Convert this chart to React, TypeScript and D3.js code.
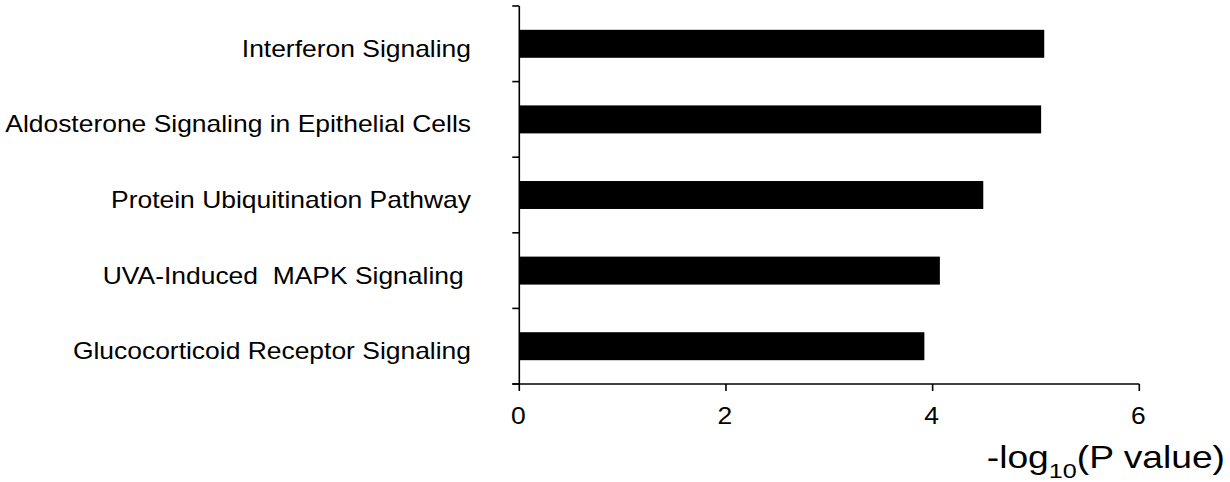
import React from "react";
import * as d3 from "d3";

const categories = [
  "Interferon Signaling",
  "Aldosterone Signaling in Epithelial Cells",
  "Protein Ubiquitination Pathway",
  "UVA-Induced  MAPK Signaling ",
  "Glucocorticoid Receptor Signaling",
];
const values = [5.08, 5.05, 4.49, 4.07, 3.92];
const xTicks = [0, 2, 4, 6];

const W = 1230;
const H = 482;
const left = 519.3;
const right = 1139.3;
const top = 6;
const bottom = 384;
const SX = 1.15;
const FONT = "'Liberation Sans', Arial, Helvetica, sans-serif";

export default function App() {
  const x = d3.scaleLinear().domain([0, 6]).range([left, right]);
  const y = d3
    .scaleBand<string>()
    .domain(categories)
    .range([top, bottom])
    .paddingInner(0.63)
    .paddingOuter(0.315);
  const step = y.step();
  const yTickPos = d3.range(categories.length + 1).map((i) => top + i * step);

  return (
    <svg
      width={W}
      height={H}
      style={{ position: "absolute", left: 0, top: 0, background: "#fff" }}
      fontFamily={FONT}
    >
      {categories.map((c, i) => (
        <rect
          key={c}
          x={x(0)}
          y={y(c)!}
          width={x(values[i]) - x(0)}
          height={y.bandwidth()}
          fill="#000"
        />
      ))}
      {/* y axis */}
      <line x1={left} x2={left} y1={top} y2={bottom} stroke="#000" strokeWidth={1.6} />
      {yTickPos.map((p, i) => (
        <line key={i} x1={left - 7} x2={left} y1={p} y2={p} stroke="#000" strokeWidth={1.6} />
      ))}
      {/* x axis */}
      <line x1={left - 7} x2={right} y1={bottom} y2={bottom} stroke="#000" strokeWidth={1.6} />
      {xTicks.map((t) => (
        <g key={t}>
          <line x1={x(t)} x2={x(t)} y1={bottom} y2={bottom + 7} stroke="#000" strokeWidth={1.6} />
          <text
            transform={`translate(${x(t) - 1},${bottom + 39.5}) scale(${SX},1)`}
            textAnchor="middle"
            fontSize={23}
            fill="#000"
          >
            {t}
          </text>
        </g>
      ))}
      {/* category labels */}
      {categories.map((c) => (
        <text
          key={c}
          transform={`translate(471,${y(c)! + y.bandwidth() / 2 + 13}) scale(${SX},1)`}
          textAnchor="end"
          fontSize={23}
          fill="#000"
          style={{ whiteSpace: "pre" }}
        >
          {c}
        </text>
      ))}
      {/* axis title */}
      <text
        transform={`translate(1225,468) scale(1.2,1)`}
        textAnchor="end"
        fontSize={31}
        fill="#000"
      >
        <tspan>-log</tspan>
        <tspan fontSize={21} dy={10}>10</tspan>
        <tspan dy={-10}>(P value)</tspan>
      </text>
    </svg>
  );
}
